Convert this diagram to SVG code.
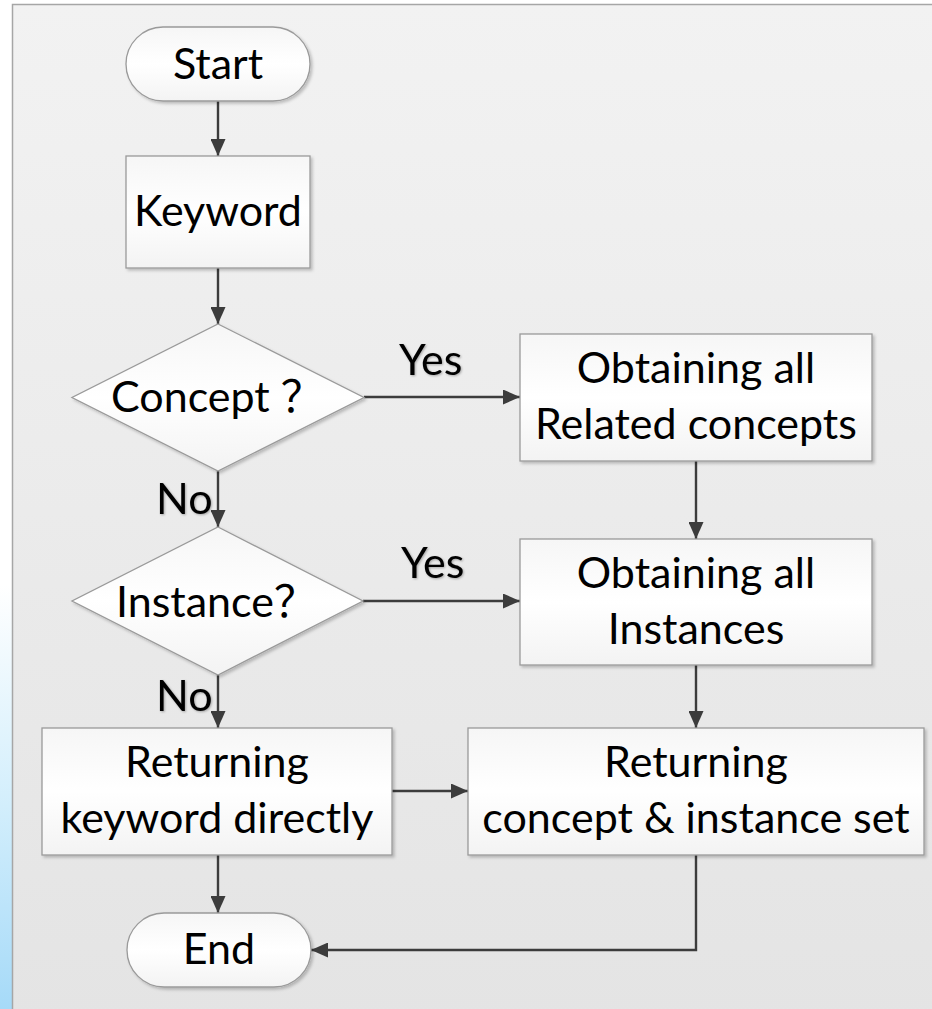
<svg xmlns="http://www.w3.org/2000/svg" width="932" height="1009" viewBox="0 0 932 1009">
  <defs>
    <linearGradient id="strip" x1="0" y1="0" x2="0" y2="1">
      <stop offset="0" stop-color="#ffffff"/>
      <stop offset="0.58" stop-color="#ffffff"/>
      <stop offset="0.8" stop-color="#d2eefc"/>
      <stop offset="1" stop-color="#a6daf8"/>
    </linearGradient>
    <linearGradient id="panel" x1="0" y1="0" x2="0" y2="1">
      <stop offset="0" stop-color="#f2f2f2"/>
      <stop offset="1" stop-color="#e4e4e4"/>
    </linearGradient>
    <linearGradient id="shapeFill" x1="0" y1="0" x2="0" y2="1">
      <stop offset="0" stop-color="#f6f6f6"/>
      <stop offset="0.5" stop-color="#ffffff"/>
      <stop offset="1" stop-color="#f3f3f3"/>
    </linearGradient>
    <filter id="shadow" x="-10%" y="-10%" width="125%" height="130%">
      <feDropShadow dx="2" dy="2" stdDeviation="1.5" flood-color="#000" flood-opacity="0.22"/>
    </filter>
    <filter id="glow" x="-20%" y="-20%" width="140%" height="140%">
      <feDropShadow dx="1" dy="1" stdDeviation="1.2" flood-color="#000" flood-opacity="0.3"/>
    </filter>
    <marker id="arrow" markerUnits="userSpaceOnUse" markerWidth="18" markerHeight="15" refX="17" refY="7.5" orient="auto">
      <path d="M0,0 L17,7.5 L0,15 z" fill="#3c3c3c"/>
    </marker>
    <style>
      .shape { fill: url(#shapeFill); stroke: #9a9a9a; stroke-width: 1.3; filter: url(#shadow); }
      .txt { font-family: Lato, "Noto Sans CJK SC", sans-serif; font-size: 43px; fill: #000; }
      .cjk { font-family: "Noto Sans CJK SC", sans-serif; }
      .mid { text-anchor: middle; }
      .label { font-family: Lato, "Noto Sans CJK SC", sans-serif; font-size: 43px; fill: #000; filter: url(#glow); }
      .conn { fill: none; stroke: #3c3c3c; stroke-width: 2.4; }
    </style>
  </defs>

  <!-- page background -->
  <rect x="0" y="0" width="932" height="1009" fill="#ffffff"/>
  <rect x="0" y="0" width="12" height="1009" fill="url(#strip)"/>
  <rect x="12" y="4" width="930" height="1015" fill="url(#panel)"/>
  <path d="M12.5,1009 L12.5,4.5 L932,4.5" fill="none" stroke="#a6a6a6" stroke-width="1.5"/>

  <!-- connectors -->
  <g id="connectors">
    <line class="conn" x1="218" y1="101" x2="218" y2="156" marker-end="url(#arrow)"/>
    <line class="conn" x1="218" y1="268" x2="218" y2="324" marker-end="url(#arrow)"/>
    <line class="conn" x1="364" y1="397" x2="520" y2="397" marker-end="url(#arrow)"/>
    <line class="conn" x1="218" y1="471" x2="218" y2="527" marker-end="url(#arrow)"/>
    <line class="conn" x1="696" y1="461" x2="696" y2="539" marker-end="url(#arrow)"/>
    <line class="conn" x1="363" y1="601" x2="520" y2="601" marker-end="url(#arrow)"/>
    <line class="conn" x1="218" y1="675" x2="218" y2="728" marker-end="url(#arrow)"/>
    <line class="conn" x1="696" y1="665" x2="696" y2="728" marker-end="url(#arrow)"/>
    <line class="conn" x1="392" y1="791" x2="468" y2="791" marker-end="url(#arrow)"/>
    <line class="conn" x1="218" y1="855" x2="218" y2="913" marker-end="url(#arrow)"/>
    <polyline class="conn" points="696,855 696,950 311,950" marker-end="url(#arrow)"/>
    <text class="label" x="399" y="375">Yes</text>
    <text class="label" x="401" y="578">Yes</text>
    <text class="label" x="156" y="514">No</text>
    <text class="label" x="156" y="711">No</text>
  </g>

  <g id="start">
    <rect class="shape" x="126" y="27" width="184" height="74" rx="37" ry="37"/>
    <text class="txt mid" x="218" y="79">Start</text>
  </g>

  <g id="keyword">
    <rect class="shape" x="126" y="156" width="184" height="112"/>
    <text class="txt mid" x="218" y="226">Keyword</text>
  </g>

  <g id="concept">
    <polygon class="shape" points="218,324 364,397.5 218,471 72,397.5"/>
    <text class="txt" x="111" y="412">Concept <tspan class="cjk">？</tspan></text>
  </g>

  <g id="related-concepts">
    <rect class="shape" x="520" y="334" width="352" height="127"/>
    <text class="txt mid" x="696" y="383">Obtaining all</text>
    <text class="txt mid" x="696" y="439">Related concepts</text>
  </g>

  <g id="instance">
    <polygon class="shape" points="218,527 363,601 218,675 72,601"/>
    <text class="txt" x="116" y="617">Instance<tspan class="cjk">？</tspan></text>
  </g>

  <g id="instances">
    <rect class="shape" x="520" y="539" width="352" height="126"/>
    <text class="txt mid" x="696" y="588">Obtaining all</text>
    <text class="txt mid" x="696" y="644">Instances</text>
  </g>

  <g id="return-keyword">
    <rect class="shape" x="42" y="728" width="350" height="127"/>
    <text class="txt mid" x="217" y="777">Returning</text>
    <text class="txt mid" x="217" y="833">keyword directly</text>
  </g>

  <g id="return-set">
    <rect class="shape" x="468" y="728" width="456" height="127"/>
    <text class="txt mid" x="696" y="777">Returning</text>
    <text class="txt mid" x="696" y="833">concept &amp; instance set</text>
  </g>

  <g id="end">
    <rect class="shape" x="127" y="913" width="184" height="74" rx="37" ry="37"/>
    <text class="txt mid" x="219" y="964">End</text>
  </g>
</svg>
